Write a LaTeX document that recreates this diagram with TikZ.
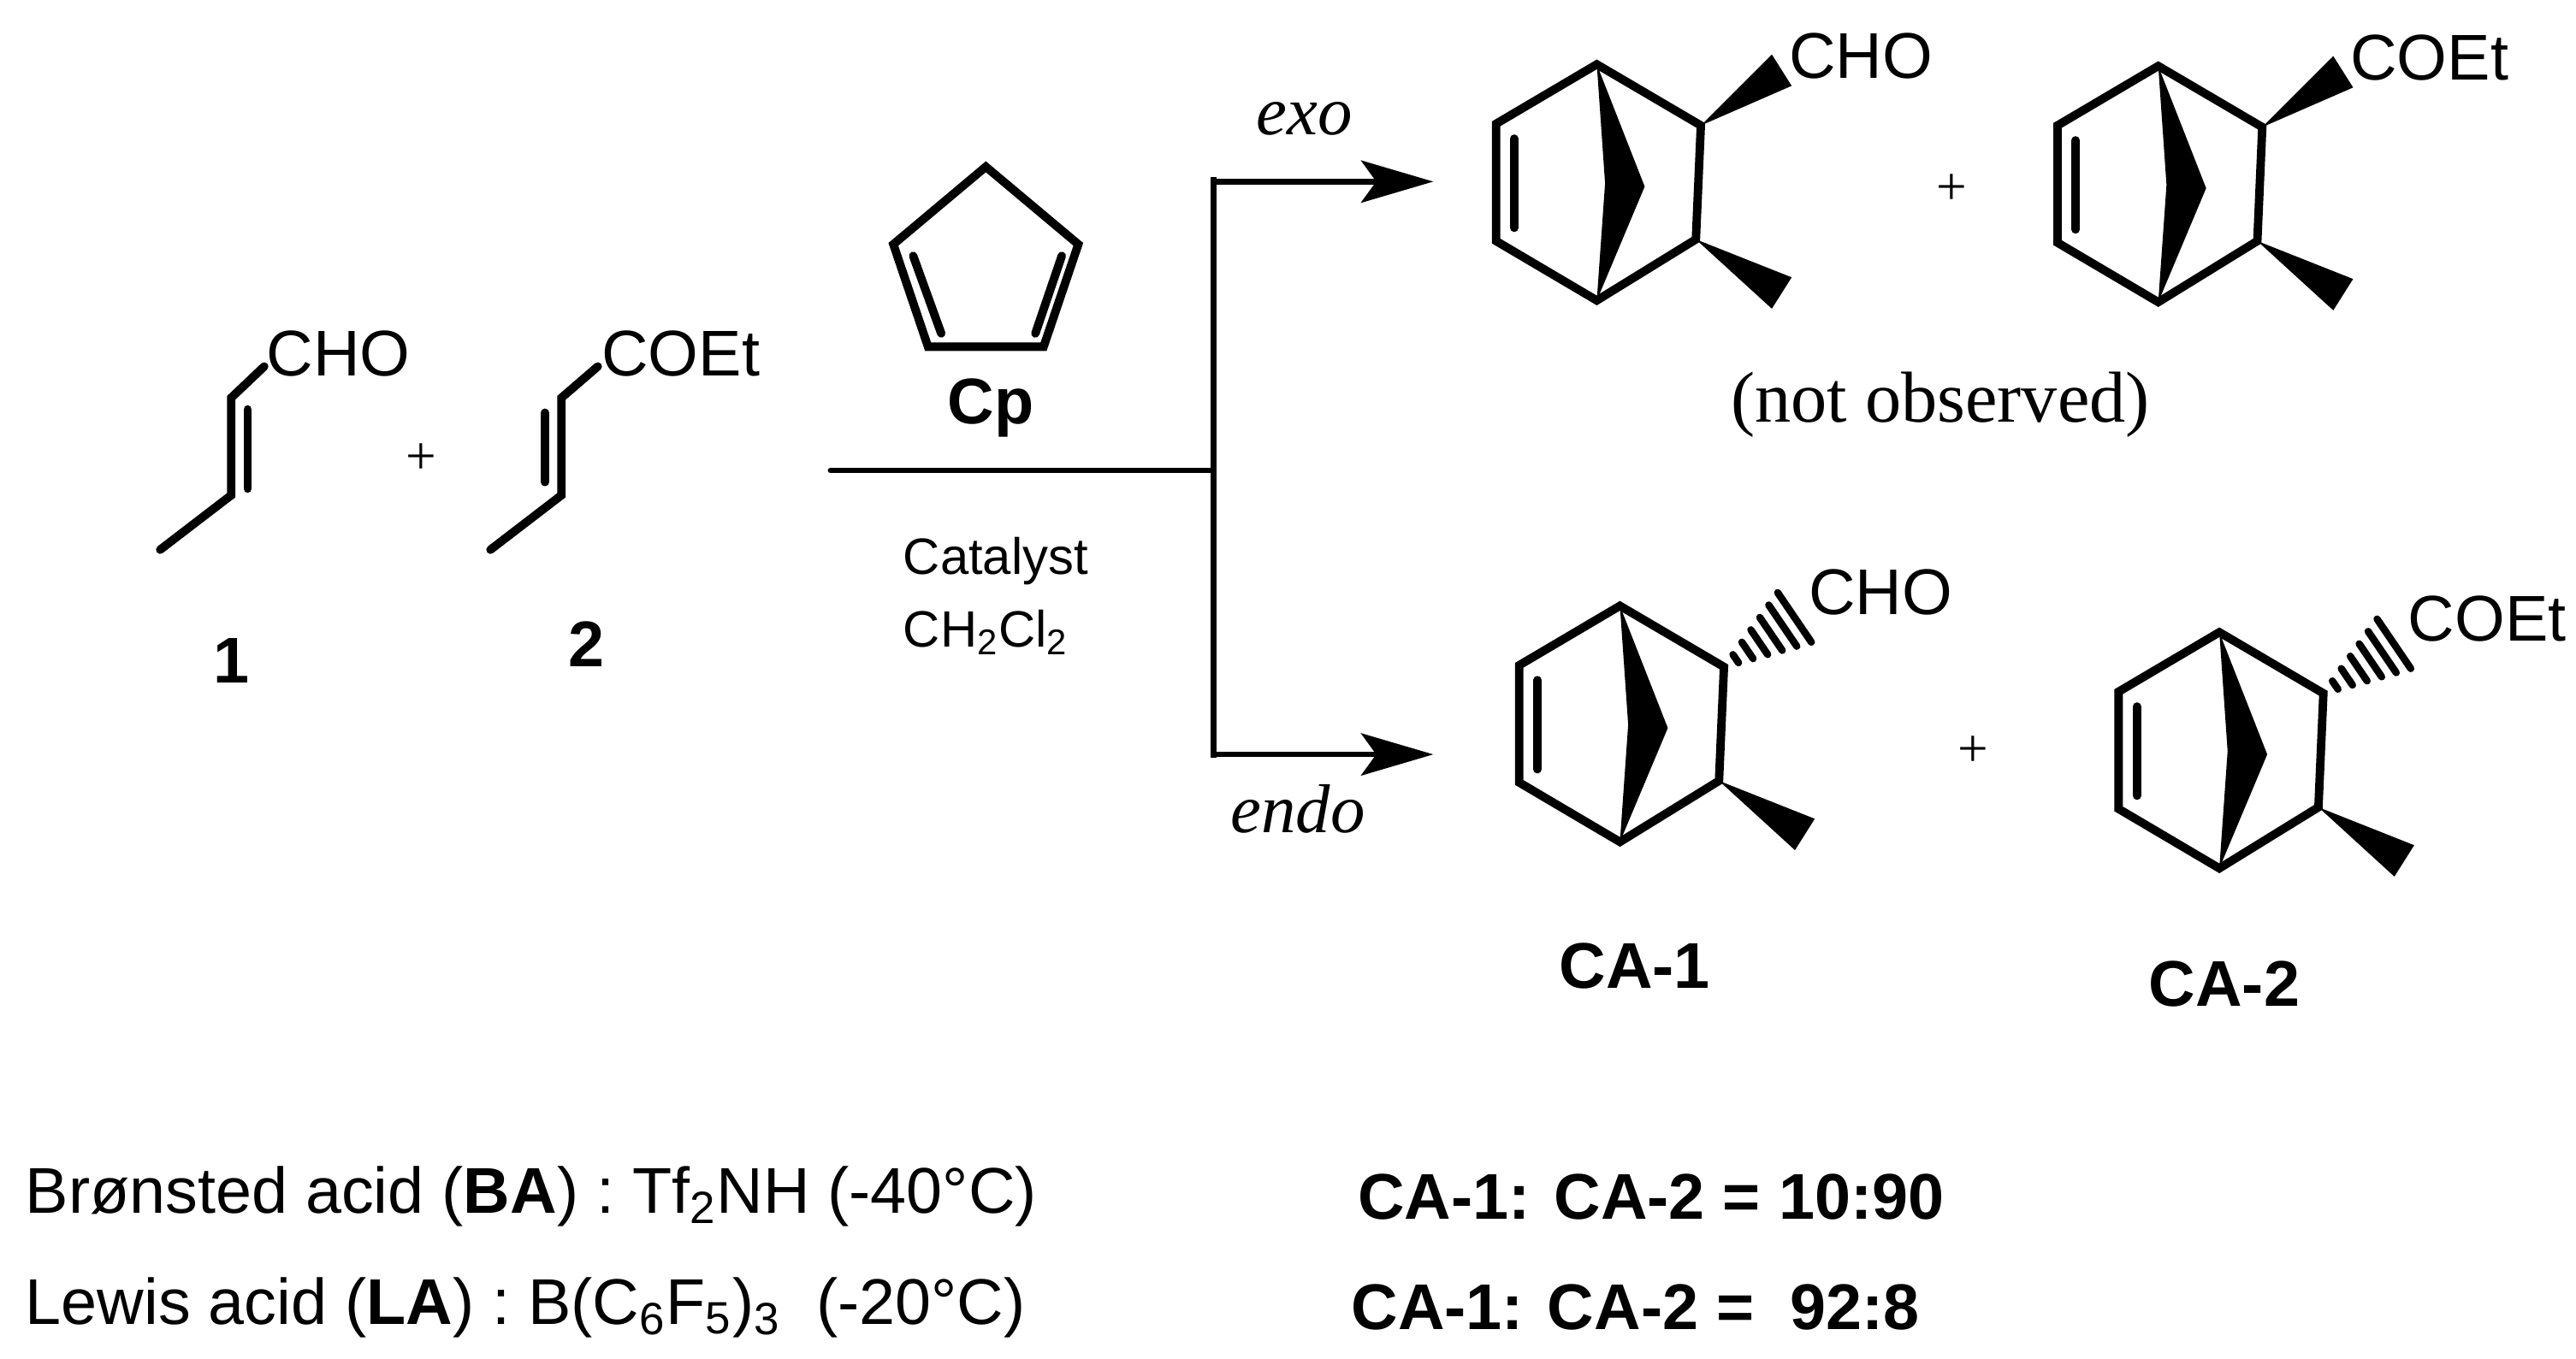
\documentclass[tikz,border=0pt]{standalone}
\usepackage{fontspec}
\setmainfont{Liberation Sans}
\newfontfamily\tms{Liberation Serif}
\usetikzlibrary{arrows.meta, positioning, calc}

% norbornene skeleton, top bridgehead at #1
\newcommand{\norbskel}[1]{%
  \begin{scope}[shift={#1}]
    \draw[bond] (0,0) -- (-61,36) -- (-61,107) -- (0,143) -- (60,106) -- (63,37) -- cycle;
    \draw[bond] (-50,45) -- (-50,99);
    \fill (0,0) -- (29,74) -- (0,143) -- (5,72) -- cycle;
    \fill (60,106) -- (106,148) -- (118,129) -- cycle;
  \end{scope}}
% exo substituent (wedge)
\newcommand{\wedgesub}[2]{%
  \begin{scope}[shift={#1}]
    \fill (63,37) -- (106,-6) -- (118,13) -- cycle;
    \node[lbl, anchor=west] at (116,-5) {#2};
  \end{scope}}
% endo substituent (hash)
\newcommand{\hashsub}[2]{%
  \begin{scope}[shift={#1}]
    \foreach \t in {1,...,6}
      \draw[line width=2.4pt, line cap=round]
        ($(63,37)!\t/6.6!(110,4) + (\t*1.7,\t*2.5)$) -- ($(63,37)!\t/6.6!(110,4) - (\t*1.7,\t*2.5)$);
    \node[lbl, anchor=west] at (114,-8) {#2};
  \end{scope}}

\begin{document}
\begin{tikzpicture}[
    x=0.0193cm, y=-0.0193cm,
    bond/.style={line width=2.8pt, line join=miter, line cap=round},
    lbl/.style={font=\fontsize{21.5}{26}\selectfont, inner sep=0pt},
    bold/.style={font=\fontsize{21.5}{26}\selectfont\bfseries, inner sep=0pt},
    small/.style={font=\fontsize{17}{22}\selectfont, inner sep=0pt, align=center},
    serif/.style={font=\fontsize{24}{28}\selectfont\tms, inner sep=0pt},
    plus/.style={font=\fontsize{18}{20}\selectfont\tms, inner sep=0pt},
    arrow/.style={line width=1.9pt, -{Stealth[length=24pt, width=14pt, inset=5pt]}}
]
    \useasboundingbox (0,0) rectangle (1560,823);

    % reactant 1
    \coordinate (m1) at (97,333);
    \coordinate (a1) at (140,300);
    \coordinate (b1) at (140,241);
    \draw[bond] (m1) -- (a1) -- (b1) -- (160,222);
    \draw[bond] (150,248) -- (150,296);
    \node[lbl, anchor=west] (cho1) at (161,214) {CHO};
    \node[bold] (n1) at (140,400) {1};

    \node[plus] (p1) at (255,278) {+};

    % reactant 2
    \coordinate (m2) at (297,333);
    \coordinate (a2) at (340,300);
    \coordinate (b2) at (340,241);
    \draw[bond] (m2) -- (a2) -- (b2) -- (362,222);
    \draw[bond] (330,250) -- (330,292);
    \node[lbl, anchor=west] (coet2) at (364,214) {COEt};
    \node[bold] (n2) at (355,390) {2};

    % Cp
    \coordinate (c1) at (597,101);
    \coordinate (c2) at (541,148);
    \coordinate (c3) at (562,210);
    \coordinate (c4) at (632,210);
    \coordinate (c5) at (653,148);
    \draw[bond] (c1) -- (c2) -- (c3) -- (c4) -- (c5) -- cycle;
    \draw[bond] (553,155) -- (570,202);
    \draw[bond] (643,155) -- (627,202);
    \node[bold] (cp) at (600,247) {Cp};

    % arrows
    \coordinate (j) at (735,285);
    \coordinate (jt) at (735,107);
    \coordinate (jb) at (735,459);
    \coordinate (et) at (868,110);
    \coordinate (eb) at (868,457);
    \draw[line width=1.9pt, line cap=round] (503,285) -- (j);
    \draw[line width=1.9pt] (jt) -- (jb);
    \draw[arrow] ($(jt)+(0,3)$) -- (et);
    \draw[arrow] ($(jb)+(0,-2)$) -- (eb);
    \node[small] (cat) at (603,340) {Catalyst};
    \node[small] (sol) at (597,383) {CH\textsubscript{2}Cl\textsubscript{2}};
    \node[serif, font=\fontsize{23}{26}\selectfont\tms\itshape] (exo) at (790,72) {exo};
    \node[serif, font=\fontsize{23}{26}\selectfont\tms\itshape] (endo) at (786,490) {endo};

    % exo products
    \norbskel{(967,39)}
    \wedgesub{(967,39)}{CHO}
    \node[plus] (p2) at (1182,115) {+};
    \norbskel{(1307,40)}
    \wedgesub{(1307,40)}{COEt}
    \node[serif] (nobs) at (1175,245) {(not observed)};

    % endo products
    \norbskel{(981,367)}
    \hashsub{(981,367)}{CHO}
    \node[plus] (p3) at (1195,455) {+};
    \norbskel{(1344,383)}
    \hashsub{(1344,383)}{COEt}
    \node[bold] (ca1) at (990,585) {CA-1};
    \node[bold] (ca2) at (1347,596) {CA-2};

    % conditions
    \node[lbl, anchor=west] (ba) at (15,725) {Brønsted acid (\textbf{BA}) : Tf\textsubscript{2}NH (-40°C)};
    \node[lbl, anchor=west] (la) at (15,792) {Lewis acid (\textbf{LA}) : B(C\textsubscript{6}F\textsubscript{5})\textsubscript{3}\ \ (-20°C)};
    \node[bold, anchor=west] (r1) at (822,725) {CA-1: CA-2 = 10:90};
    \node[bold, anchor=west] (r2) at (818,792) {CA-1: CA-2 = \ 92:8};
\end{tikzpicture}
\end{document}
